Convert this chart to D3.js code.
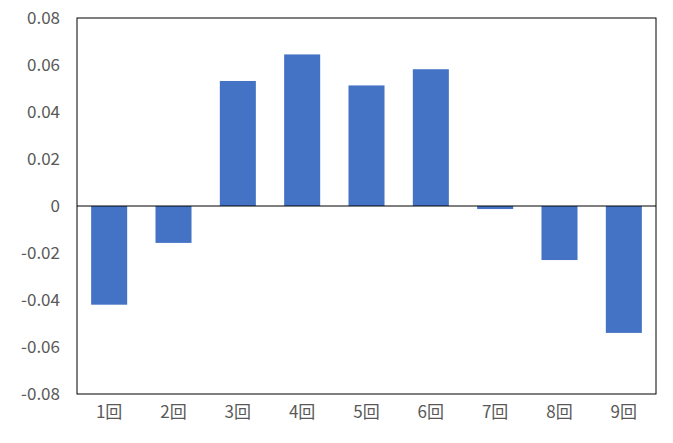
<!DOCTYPE html>
<html><head><meta charset="utf-8">
<script src="https://cdn.jsdelivr.net/npm/d3@7"></script>
<style>body{margin:0;background:#fff}text{font-family:"Noto Sans CJK JP",sans-serif}</style>
</head><body>
<svg id="c" width="673" height="443"></svg>
<script>
const categories = ["1回","2回","3回","4回","5回","6回","7回","8回","9回"];
const values = [-0.042,-0.0157,0.0532,0.0645,0.0513,0.0582,-0.0013,-0.023,-0.054];
const yTicks = [0.08,0.06,0.04,0.02,0,-0.02,-0.04,-0.06,-0.08];
const tickLabels = ["0.08","0.06","0.04","0.02","0","-0.02","-0.04","-0.06","-0.08"];

const svg = d3.select("#c");
const L=77,R=656,T=18,B=394;
const x = d3.scaleBand().domain(categories).range([L,R]).paddingInner(0.44).paddingOuter(0.22);
const y = d3.scaleLinear().domain([-0.08,0.08]).range([B,T]);

svg.append("rect").attr("x",L).attr("y",T).attr("width",R-L).attr("height",B-T)
  .attr("fill","none").attr("stroke","#000").attr("stroke-width",1);

svg.selectAll(".bar").data(values).enter().append("rect")
  .attr("x",(d,i)=>x(categories[i])).attr("width",x.bandwidth())
  .attr("y",d=>y(Math.max(0,d))).attr("height",d=>Math.abs(y(d)-y(0)))
  .attr("fill","#4472C4");

svg.append("line").attr("x1",L).attr("x2",R).attr("y1",y(0)).attr("y2",y(0)).attr("stroke","#000");

svg.selectAll(".yt").data(yTicks).enter().append("text")
  .attr("x",60).attr("y",d=>y(d)).attr("dy","0.35em").attr("text-anchor","end")
  .attr("font-size",17).attr("fill","#595959").text((d,i)=>tickLabels[i]);

svg.selectAll(".xt").data(categories).enter().append("text")
  .attr("x",d=>x(d)+x.bandwidth()/2).attr("y",B+24).attr("text-anchor","middle")
  .attr("font-size",17).attr("fill","#595959").text(d=>d);
</script>
</body></html>
